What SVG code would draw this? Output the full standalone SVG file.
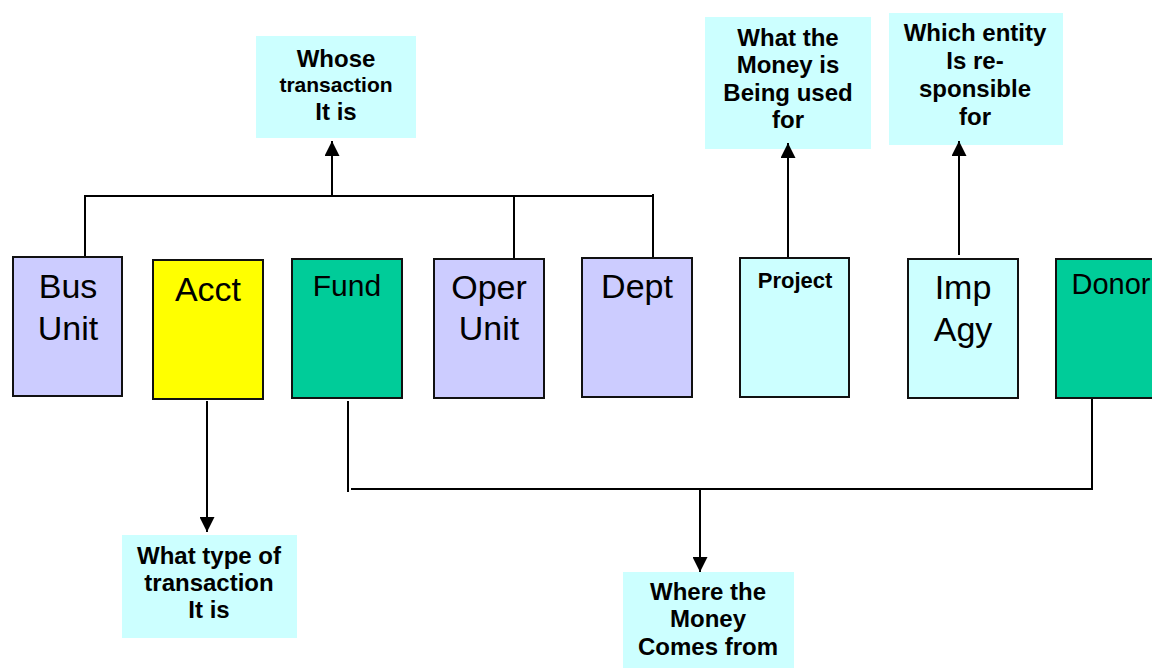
<svg xmlns="http://www.w3.org/2000/svg" width="1152" height="668" viewBox="0 0 1152 668">
<style>
.box{stroke:#111;stroke-width:2}
.lav{fill:#CCCCFF}
.yel{fill:#FFFF00}
.grn{fill:#00CC99}
.cyan{fill:#CCFFFF}
.call{fill:#CCFFFF;stroke:none}
.lbl{font-family:"Liberation Sans",Arial,sans-serif;font-size:34px;fill:#000;text-anchor:middle}
.note{font-family:"Liberation Sans",Arial,sans-serif;font-size:24px;font-weight:bold;fill:#000;text-anchor:middle}
.conn{stroke:#000;stroke-width:2;fill:none}
</style>
<defs>
<marker id="arr" viewBox="0 0 15 15" refX="15" refY="7.5" markerWidth="15" markerHeight="15" markerUnits="userSpaceOnUse" orient="auto">
<path d="M0,0 L15,7.5 L0,15 Z" fill="#000"/>
</marker>
</defs>
<rect width="1152" height="668" fill="#fff"/>

<g id="callout-whose">
<rect class="call" x="256" y="36" width="160" height="102"/>
<text class="note" x="336" y="67">Whose</text>
<text class="note" x="336" y="92" style="font-size:21px">transaction</text>
<text class="note" x="336" y="120">It is</text>
</g>
<g id="callout-used">
<rect class="call" x="705" y="17" width="166" height="132"/>
<text class="note" x="788" y="46">What the</text>
<text class="note" x="788" y="73">Money is</text>
<text class="note" x="788" y="101">Being used</text>
<text class="note" x="788" y="128">for</text>
</g>
<g id="callout-entity">
<rect class="call" x="889" y="13" width="174" height="132"/>
<text class="note" x="975" y="41">Which entity</text>
<text class="note" x="975" y="69">Is re-</text>
<text class="note" x="975" y="97">sponsible</text>
<text class="note" x="975" y="125">for</text>
</g>
<g id="callout-type">
<rect class="call" x="122" y="535" width="175" height="103"/>
<text class="note" x="209" y="564">What type of</text>
<text class="note" x="209" y="591">transaction</text>
<text class="note" x="209" y="618">It is</text>
</g>
<g id="callout-where">
<rect class="call" x="623" y="572" width="171" height="98"/>
<text class="note" x="708" y="600">Where the</text>
<text class="note" x="708" y="627">Money</text>
<text class="note" x="708" y="655">Comes from</text>
</g>

<g id="connectors">
<polyline class="conn" points="85,264 85,196 653,196"/>
<line class="conn" x1="653" y1="194" x2="653" y2="262"/>
<line class="conn" x1="514" y1="197" x2="514" y2="267"/>
<line class="conn" x1="332" y1="196" x2="332" y2="141" marker-end="url(#arr)"/>
<line class="conn" x1="207" y1="401" x2="207" y2="532" marker-end="url(#arr)"/>
<line class="conn" x1="788" y1="257" x2="788" y2="143" marker-end="url(#arr)"/>
<line class="conn" x1="959" y1="255" x2="959" y2="141" marker-end="url(#arr)"/>
<line class="conn" x1="348" y1="401" x2="348" y2="492"/>
<polyline class="conn" points="351,489 1092,489 1092,398"/>
<line class="conn" x1="700" y1="489" x2="700" y2="572" marker-end="url(#arr)"/>
</g>

<g id="node-bus-unit">
<rect class="box lav" x="13" y="257" width="109" height="139"/>
<text class="lbl" x="68" y="298">Bus</text>
<text class="lbl" x="68" y="340">Unit</text>
</g>
<g id="node-acct">
<rect class="box yel" x="153" y="260" width="110" height="139"/>
<text class="lbl" x="208" y="301">Acct</text>
</g>
<g id="node-fund">
<rect class="box grn" x="292" y="259" width="110" height="139"/>
<text class="lbl" x="347" y="296" style="font-size:30px">Fund</text>
</g>
<g id="node-oper-unit">
<rect class="box lav" x="434" y="259" width="110" height="139"/>
<text class="lbl" x="489" y="299">Oper</text>
<text class="lbl" x="489" y="340">Unit</text>
</g>
<g id="node-dept">
<rect class="box lav" x="582" y="258" width="110" height="139"/>
<text class="lbl" x="637" y="298">Dept</text>
</g>
<g id="node-project">
<rect class="box cyan" x="740" y="258" width="109" height="139"/>
<text class="note" x="795" y="288" style="font-size:22px">Project</text>
</g>
<g id="node-imp-agy">
<rect class="box cyan" x="908" y="259" width="110" height="139"/>
<text class="lbl" x="963" y="299">Imp</text>
<text class="lbl" x="963" y="341">Agy</text>
</g>
<g id="node-donor">
<rect class="box grn" x="1056" y="259" width="110" height="139"/>
<text class="lbl" x="1111" y="294" style="font-size:29px">Donor</text>
</g>
</svg>
